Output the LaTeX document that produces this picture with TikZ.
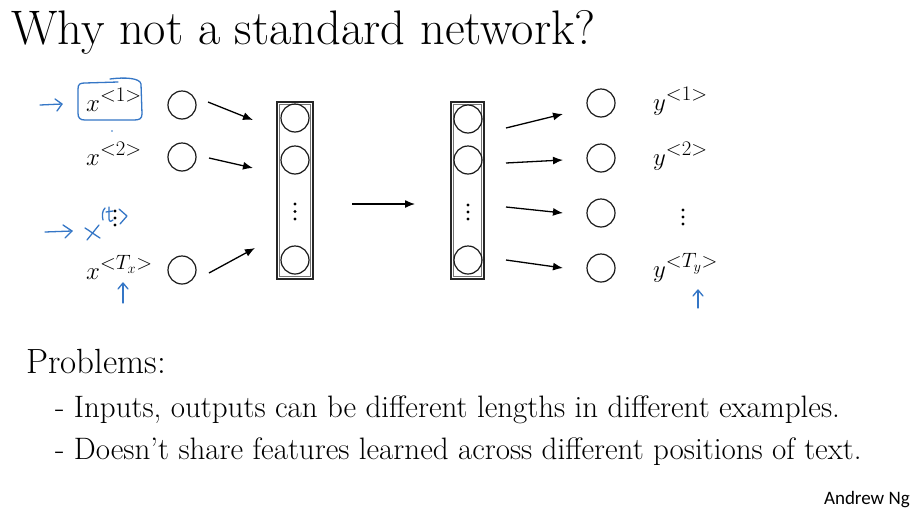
\documentclass[tikz,border=0pt]{standalone}
\usepackage{fontspec}
\newfontfamily\ngfont{Carlito}
\usetikzlibrary{arrows.meta}
\definecolor{handblue}{RGB}{52,118,198}
\DeclareMathSizes{27}{27}{20}{15}
\begin{document}
\begin{tikzpicture}[x=1pt,y=-1pt,
  unit/.style={draw=black!90, circle, line width=1.2pt, minimum size=28pt, inner sep=0pt},
  boxouter/.style={draw=black!85, line width=1.1pt},
  boxinner/.style={draw=black!55, line width=0.8pt},
  arr/.style={line width=1.3pt, -{Latex[length=10pt,width=8pt]}},
  lbl/.style={anchor=base west, inner sep=0pt, font=\fontsize{27}{30}\selectfont},
  hand/.style={handblue, line width=1.3pt, line cap=round, line join=round},
  dotm/.style={circle, fill=black, inner sep=0pt, minimum size=3.2pt},
  txt/.style={anchor=base west, inner sep=0pt},
]
\fill[white] (0,0) rectangle (916,517);
\useasboundingbox (0,0) rectangle (916,517);

% title
\node[txt, font=\fontsize{48.5}{54}\selectfont] (title) at (11,44) {Why not a standard network?};

% input labels
\node[lbl] (lx1) at (86,111) {$x^{<1>}$};
\node[lbl] (lx2) at (86,165) {$x^{<2>}$};
\node[lbl] (lxT) at (86,279) {$x^{<T_x>}$};
\node[dotm] (ld1) at (115,211) {};
\node[dotm] (ld2) at (115,218) {};
\node[dotm] (ld3) at (115,225) {};

% input units
\node[unit] (i1) at (182,105) {};
\node[unit] (i2) at (182,157) {};
\node[unit] (iT) at (182,270) {};

% hidden layer (left box)
\draw[boxouter] (277,102) rectangle (313,279);
\draw[boxinner] (279.5,104.5) rectangle (310.5,276.5);
\node[unit] (h1) at (295,118) {};
\node[unit] (h2) at (295,160) {};
\node[unit] (hT) at (295,260) {};
\node[dotm] (hd1) at (295,204) {};
\node[dotm] (hd2) at (295,211.5) {};
\node[dotm] (hd3) at (295,219) {};

% hidden layer (right box)
\draw[boxouter] (451,102) rectangle (484,279);
\draw[boxinner] (453.5,104.5) rectangle (481.5,276.5);
\node[unit] (g1) at (468,119) {};
\node[unit] (g2) at (468,160) {};
\node[unit] (gT) at (468,260) {};
\node[dotm] (gd1) at (468,205) {};
\node[dotm] (gd2) at (468,212) {};
\node[dotm] (gd3) at (468,219) {};

% output units
\node[unit] (o1) at (601,103) {};
\node[unit] (o2) at (601,158) {};
\node[unit] (o3) at (601,213) {};
\node[unit] (oT) at (601,268) {};

% output labels
\node[lbl] (ly1) at (653,110) {$y^{<1>}$};
\node[lbl] (ly2) at (653,165) {$y^{<2>}$};
\node[lbl] (lyT) at (653,277) {$y^{<T_y>}$};
\node[dotm] (yd1) at (683,210) {};
\node[dotm] (yd2) at (683,217) {};
\node[dotm] (yd3) at (683,224) {};

% arrow end points
\coordinate (a1s) at (208,102);  \coordinate (a1e) at (253,120);
\coordinate (a2s) at (209,158);  \coordinate (a2e) at (253,168);
\coordinate (a3s) at (209,273);  \coordinate (a3e) at (255,248);
\coordinate (ms)  at (352,204);  \coordinate (me)  at (415,204);
\coordinate (b1s) at (506,128);  \coordinate (b1e) at (563,114);
\coordinate (b2s) at (506,163);  \coordinate (b2e) at (563,160);
\coordinate (b3s) at (506,207);  \coordinate (b3e) at (563,213);
\coordinate (b4s) at (506,260);  \coordinate (b4e) at (563,268);
\draw[arr] (a1s) -- (a1e);
\draw[arr] (a2s) -- (a2e);
\draw[arr] (a3s) -- (a3e);
\draw[arr] (ms) -- (me);
\draw[arr] (b1s) -- (b1e);
\draw[arr] (b2s) -- (b2e);
\draw[arr] (b3s) -- (b3e);
\draw[arr] (b4s) -- (b4e);

% handwritten annotations
\draw[hand] (40,105) -- (62,104);
\draw[hand] (55,99) -- (62,104) -- (57,111);
\draw[hand] (110,79) .. controls (125,77) and (140,78) .. (141,84)
  -- (142,114) .. controls (142,119) and (139,120) .. (134,120)
  -- (85,120) .. controls (80,120) and (78,118) .. (78,113)
  -- (78,89) .. controls (78,84) and (80,83) .. (85,83) -- (118,82);
\fill[handblue] (112,131) circle (0.9pt);

\draw[hand] (45,232) -- (72,231);
\draw[hand] (63,225) -- (72,231) -- (65,238);
\draw[hand] (87,240) -- (99,225);
\draw[hand] (85,228) .. controls (90,231) and (95,235) .. (100,238);
\draw[hand] (105,208) .. controls (102,211) and (102,216) .. (103,220);
\draw[hand] (109,207) -- (109,219) .. controls (109,222) and (112,222) .. (113,220);
\draw[hand] (106,212) -- (113,211);
\draw[hand] (119,209) -- (127,216) -- (120,224);

\draw[hand] (123,303) -- (123,284);
\draw[hand] (118,289) -- (123,283) -- (128,289);
\draw[hand] (698,308) -- (698,291);
\draw[hand] (693,296) -- (698,290) -- (703,296);

% problems text
\node[txt, font=\fontsize{35}{40}\selectfont] (prob) at (26,373) {Problems:};
\node[txt, font=\fontsize{31}{36}\selectfont] (p1) at (55,417) {- Inputs, outputs can be different lengths in different examples.};
\node[txt, font=\fontsize{31}{36}\selectfont] (p2) at (55,459) {- Doesn’t share features learned across different positions of text.};
\node[anchor=base east, inner sep=0pt, font=\ngfont\fontsize{19}{22}\selectfont] (name) at (910,504) {Andrew Ng};
\end{tikzpicture}
\end{document}
